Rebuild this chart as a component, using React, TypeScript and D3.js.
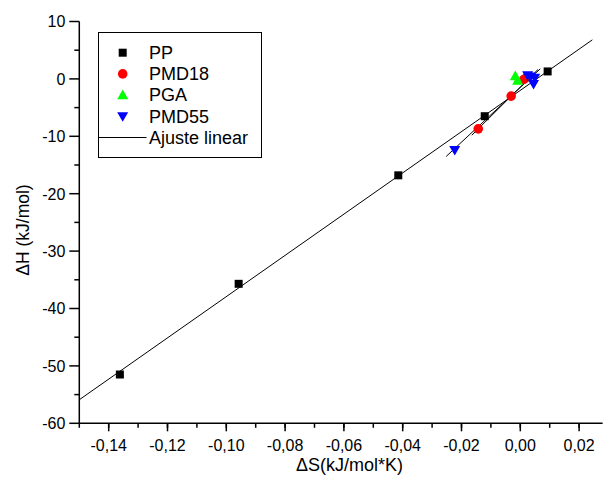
import React from "react";
import * as d3 from "d3";

const ppData: [number, number][] = [
  [-0.1362, -51.5],
  [-0.0958, -35.7],
  [-0.0415, -16.8],
  [-0.0121, -6.5],
  [0.0093, 1.3],
];
const pmd18Data: [number, number][] = [
  [-0.0143, -8.7],
  [-0.0031, -3.0],
  [0.0012, -0.1],
  [0.0022, 0.3],
];
const pgaData: [number, number][] = [
  [-0.0017, 0.5],
  [-0.0009, -0.3],
];
const pmd55Data: [number, number][] = [
  [-0.0223, -12.4],
  [0.0025, 0.6],
  [0.0049, 0.2],
  [0.0045, -0.9],
  [0.0035, 0.4],
];

// linear fits: slope, intercept, x start, x end
const fitSlopes = [359.3, 509, -509, 477];
const fitIntercepts = [-2.0, -1.42, -0.48, -1.48];
const fitStarts = [-0.15, -0.0165, -0.0015, -0.0252];
const fitEnds = [0.0245, 0.006, 0.0009, 0.0068];

const xTicks = [-0.14, -0.12, -0.1, -0.08, -0.06, -0.04, -0.02, 0.0, 0.02];
const xMinorTicks = d3.range(-0.15, 0.0281, 0.01);
const yTicks = [10, 0, -10, -20, -30, -40, -50, -60];
const yMinorTicks = d3.range(-55, 10, 10);
const legendLabels = ["PP", "PMD18", "PGA", "PMD55", "Ajuste linear"];

const W = 605;
const H = 487;
const FONT = "Liberation Sans, Arial, sans-serif";

export default function App() {
  const x = d3.scaleLinear().domain([-0.15, 0.028]).range([79.3, 79.3 + 0.178 * 2940]);
  const y = d3.scaleLinear().domain([-60, 10]).range([423.3, 21.5]);
  const fmtX = (v: number) => d3.format(".2f")(v).replace(".", ",").replace("−", "-");

  const sq = 8;
  const tri = (cx: number, cy: number, down: boolean) => {
    const s = 5.5;
    if (!down)
      return `M${cx},${cy - s}L${cx + s},${cy + s * 0.75}L${cx - s},${cy + s * 0.75}Z`;
    return `M${cx},${cy + s}L${cx + s},${cy - s * 0.75}L${cx - s},${cy - s * 0.75}Z`;
  };

  const x0 = x.range()[0];
  const y0 = y.range()[0];

  return (
    <svg width={W} height={H} style={{ position: "absolute", left: 0, top: 0, background: "#fff" }} fontFamily={FONT}>
      <rect width={W} height={H} fill="#fff" />
      {/* fit lines */}
      {fitSlopes.map((m, i) => (
        <line
          key={"fit" + i}
          x1={x(fitStarts[i])}
          y1={y(m * fitStarts[i] + fitIntercepts[i])}
          x2={x(fitEnds[i])}
          y2={y(m * fitEnds[i] + fitIntercepts[i])}
          stroke="#000"
          strokeWidth={1}
        />
      ))}
      {/* points */}
      {ppData.map(([a, b], i) => (
        <rect key={"pp" + i} x={x(a) - sq / 2} y={y(b) - sq / 2} width={sq} height={sq} fill="#000" />
      ))}
      {pmd18Data.map(([a, b], i) => (
        <circle key={"r" + i} cx={x(a)} cy={y(b)} r={4.8} fill="#ff0000" />
      ))}
      {pgaData.map(([a, b], i) => (
        <path key={"g" + i} d={tri(x(a), y(b), false)} fill="#00ff00" />
      ))}
      {pmd55Data.map(([a, b], i) => (
        <path key={"b" + i} d={tri(x(a), y(b), true)} fill="#0000ff" />
      ))}
      {/* axes */}
      <line x1={x0} y1={y0} x2={x.range()[1]} y2={y0} stroke="#000" strokeWidth={1.5} />
      <line x1={x0} y1={y0} x2={x0} y2={y.range()[1]} stroke="#000" strokeWidth={1.5} />
      {xTicks.map((t) => (
        <g key={"xt" + t}>
          <line x1={x(t)} x2={x(t)} y1={y0} y2={y0 + 8} stroke="#000" strokeWidth={1.5} />
          <text x={x(t)} y={451} textAnchor="middle" fontSize={16}>
            {fmtX(t)}
          </text>
        </g>
      ))}
      {xMinorTicks.map((t) => (
        <line key={"xm" + t} x1={x(t)} x2={x(t)} y1={y0} y2={y0 + 4.5} stroke="#000" strokeWidth={1.5} />
      ))}
      {yTicks.map((t) => (
        <g key={"yt" + t}>
          <line x1={x0 - 10} x2={x0} y1={y(t)} y2={y(t)} stroke="#000" strokeWidth={1.5} />
          <text x={x0 - 14} y={y(t) + 5.8} textAnchor="end" fontSize={16}>
            {t}
          </text>
        </g>
      ))}
      {yMinorTicks.map((t) => (
        <line key={"ym" + t} x1={x0 - 5} x2={x0} y1={y(t)} y2={y(t)} stroke="#000" strokeWidth={1.5} />
      ))}
      {/* axis titles */}
      <text x={349.5} y={471} textAnchor="middle" fontSize={18}>
        ΔS(kJ/mol*K)
      </text>
      <text transform={`translate(29,230) rotate(-90)`} textAnchor="middle" fontSize={17.5}>
        ΔH (kJ/mol)
      </text>
      {/* legend */}
      <rect x={98.5} y={32.5} width={163} height={125} fill="#fff" stroke="#000" strokeWidth={1} />
      {legendLabels.map((lab, i) => {
        const ly = 52.7 + i * 21.2;
        let sym: React.ReactNode = null;
        if (i === 0) sym = <rect x={122.7 - sq / 2} y={ly - sq / 2} width={sq} height={sq} fill="#000" />;
        if (i === 1) sym = <circle cx={122.7} cy={ly} r={4.8} fill="#ff0000" />;
        if (i === 2) sym = <path d={tri(122.7, ly, false)} fill="#00ff00" />;
        if (i === 3) sym = <path d={tri(122.7, ly, true)} fill="#0000ff" />;
        if (i === 4) sym = <line x1={99} x2={146.5} y1={ly} y2={ly} stroke="#000" strokeWidth={1} />;
        return (
          <g key={lab}>
            {sym}
            <text x={149} y={ly + 6.3} fontSize={18}>
              {lab}
            </text>
          </g>
        );
      })}
    </svg>
  );
}
